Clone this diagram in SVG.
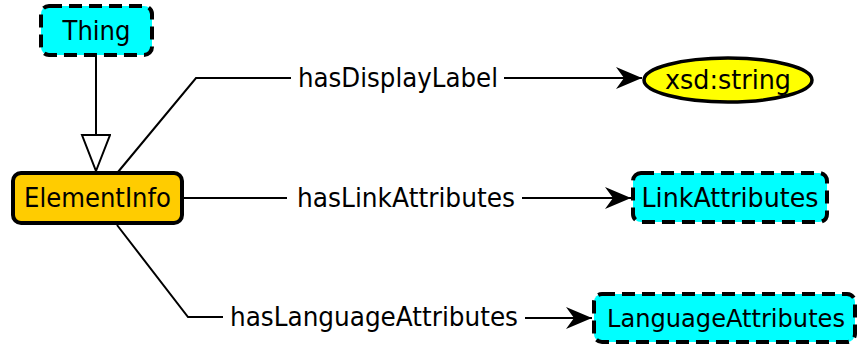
<svg xmlns="http://www.w3.org/2000/svg" width="859" height="347" viewBox="0 0 859 347">
<style>
.lbl{font-family:"DejaVu Sans","Liberation Sans",sans-serif;font-size:26px;fill:#000}
.cls{fill:#00FFFF;stroke:#000;stroke-width:4;stroke-dasharray:13 7}
.edge{fill:none;stroke:#000;stroke-width:2}
</style>
<defs>
<marker id="arr" markerUnits="userSpaceOnUse" markerWidth="28" markerHeight="24" refX="26" refY="12" orient="auto">
<path d="M26,12 L0,1 L8,12 L0,23 Z" fill="#000"/>
</marker>
<marker id="inh" markerUnits="userSpaceOnUse" markerWidth="40" markerHeight="32" refX="37" refY="15" orient="auto">
<path d="M37,15 L1,1 L1,29 Z" fill="#fff" stroke="#000" stroke-width="2"/>
</marker>
</defs>
<g id="connectors">
<path class="edge" d="M96,57 L96,171" marker-end="url(#inh)"/>
<path class="edge" d="M118,172 L196,78 L291,78"/>
<path class="edge" d="M504,78 L642,78" marker-end="url(#arr)"/>
<path class="edge" d="M183,198 L287,198"/>
<path class="edge" d="M522,198 L631,198" marker-end="url(#arr)"/>
<path class="edge" d="M117,225 L188,317 L223,317"/>
<path class="edge" d="M525,318 L592,318" marker-end="url(#arr)"/>
<text class="lbl" x="298" y="87" textLength="200" lengthAdjust="spacingAndGlyphs">hasDisplayLabel</text>
<text class="lbl" x="297" y="207" textLength="218" lengthAdjust="spacingAndGlyphs">hasLinkAttributes</text>
<text class="lbl" x="230" y="326" textLength="288" lengthAdjust="spacingAndGlyphs">hasLanguageAttributes</text>
</g>
<g id="Thing">
<rect class="cls" x="41" y="6" width="111" height="49" rx="8"/>
<text class="lbl" x="96.5" y="40" text-anchor="middle" textLength="68" lengthAdjust="spacingAndGlyphs">Thing</text>
</g>
<g id="ElementInfo">
<rect x="13" y="173" width="169" height="50" rx="8" fill="#FFCC00" stroke="#000" stroke-width="4"/>
<text class="lbl" x="97.5" y="207" text-anchor="middle" textLength="147" lengthAdjust="spacingAndGlyphs">ElementInfo</text>
</g>
<g id="xsd_string">
<ellipse cx="728" cy="80" rx="84" ry="22" fill="#FFFF00" stroke="#000" stroke-width="3.5"/>
<text class="lbl" x="728" y="89" text-anchor="middle" textLength="126" lengthAdjust="spacingAndGlyphs">xsd:string</text>
</g>
<g id="LinkAttributes">
<rect class="cls" x="633" y="173" width="194" height="49" rx="8"/>
<text class="lbl" x="730" y="207" text-anchor="middle" textLength="177" lengthAdjust="spacingAndGlyphs">LinkAttributes</text>
</g>
<g id="LanguageAttributes">
<rect class="cls" x="594" y="294" width="261" height="48" rx="8"/>
<text class="lbl" x="726" y="327" text-anchor="middle" style="font-size:24px" textLength="238" lengthAdjust="spacingAndGlyphs">LanguageAttributes</text>
</g>
</svg>
